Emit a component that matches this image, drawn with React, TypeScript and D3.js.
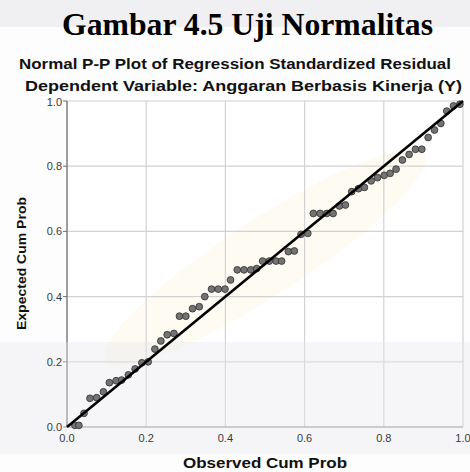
import React from "react";
import * as d3 from "d3";

const observedCumProb = [
  0.020, 0.030, 0.043, 0.058, 0.075, 0.092, 0.107, 0.124, 0.138, 0.155,
  0.172, 0.189, 0.205, 0.222, 0.237, 0.253, 0.270, 0.284, 0.300, 0.317,
  0.334, 0.348, 0.365, 0.382, 0.399, 0.413, 0.430, 0.447, 0.464, 0.479,
  0.494, 0.511, 0.528, 0.542, 0.559, 0.574, 0.591, 0.608, 0.622, 0.639,
  0.656, 0.672, 0.688, 0.703, 0.719, 0.736, 0.751, 0.768, 0.784, 0.801,
  0.816, 0.831, 0.847, 0.864, 0.880, 0.896, 0.912, 0.928, 0.944, 0.959,
  0.976, 0.992,
];
const expectedCumProb = [
  0.005, 0.005, 0.042, 0.088, 0.090, 0.108, 0.136, 0.142, 0.144, 0.160,
  0.178, 0.197, 0.200, 0.239, 0.264, 0.283, 0.287, 0.340, 0.340, 0.363,
  0.369, 0.400, 0.423, 0.423, 0.423, 0.451, 0.482, 0.482, 0.482, 0.486,
  0.509, 0.509, 0.509, 0.509, 0.538, 0.540, 0.591, 0.594, 0.655, 0.655,
  0.655, 0.655, 0.678, 0.681, 0.722, 0.731, 0.735, 0.755, 0.765, 0.772,
  0.778, 0.791, 0.819, 0.836, 0.852, 0.852, 0.888, 0.911, 0.931, 0.969,
  0.985, 0.990,
];
const tickValues = [0, 0.2, 0.4, 0.6, 0.8, 1.0];
const referenceLine = [0, 1];

const pageTitle = "Gambar 4.5 Uji Normalitas";
const chartTitle = "Normal P-P Plot of Regression Standardized Residual";
const chartSubtitle = "Dependent Variable: Anggaran Berbasis Kinerja (Y)";
const xAxisTitle = "Observed Cum Prob";
const yAxisTitle = "Expected Cum Prob";

export default function App() {
  const W = 470;
  const H = 472;
  const plot = { left: 67, right: 463, top: 101, bottom: 427 };
  const x = d3.scaleLinear().domain([0, 1]).range([plot.left, plot.right]);
  const y = d3.scaleLinear().domain([0, 1]).range([plot.bottom, plot.top]);
  const fmt = d3.format(".1f");
  const sans = "'Liberation Sans', Arial, sans-serif";

  const points = observedCumProb.map((v, i) => [v, expectedCumProb[i]]);
  const linePath = d3.line<number>()
    .x((d) => x(d))
    .y((d) => y(d))(referenceLine) as string;

  return (
    <svg
      width={W}
      height={H}
      style={{ position: "absolute", left: 0, top: 0, background: "#fff" }}
    >
      <rect x={0} y={0} width={W} height={H} fill="#fdfdfd" />
      <rect x={0} y={0} width={W} height={27} fill="#f0f0f2" />

      {/* plot background */}
      <rect
        x={plot.left}
        y={plot.top}
        width={plot.right - plot.left}
        height={plot.bottom - plot.top}
        fill="#ffffff"
      />
      <ellipse
        cx={x(0.5)}
        cy={y(0.52)}
        rx={190}
        ry={38}
        transform={`rotate(-33 ${x(0.5)} ${y(0.52)})`}
        fill="#fdf8ea"
        opacity={0.6}
      />

      {/* grid */}
      {tickValues.map((t) => (
        <g key={"g" + t}>
          <line x1={x(t)} x2={x(t)} y1={plot.top} y2={plot.bottom} stroke="#d2d2d2" strokeWidth={1.2} />
          <line x1={plot.left} x2={plot.right} y1={y(t)} y2={y(t)} stroke="#d2d2d2" strokeWidth={1.2} />
        </g>
      ))}

      {/* axes */}
      <line x1={plot.left} x2={plot.left} y1={plot.top} y2={plot.bottom} stroke="#6e6e6e" strokeWidth={1.2} />
      <line x1={plot.left} x2={plot.right} y1={plot.bottom} y2={plot.bottom} stroke="#8a8a8a" strokeWidth={1.2} />
      {tickValues.map((t) => (
        <line key={"yt" + t} x1={plot.left - 4} x2={plot.left} y1={y(t)} y2={y(t)} stroke="#6e6e6e" strokeWidth={1} />
      ))}

      {/* watermark band */}
      <rect x={0} y={342} width={W} height={112} fill="#e9e9ed" opacity={0.4} />

      {/* tick labels */}
      {tickValues.map((t) => (
        <text
          key={"yl" + t}
          x={plot.left - 5}
          y={t === 1 ? y(t) + 5 : y(t) + 4}
          textAnchor="end"
          fontFamily={sans}
          fontSize={11}
          fill="#3a3a3a"
        >
          {fmt(t)}
        </text>
      ))}
      {tickValues.map((t) => (
        <text
          key={"xl" + t}
          x={x(t)}
          y={plot.bottom + 15}
          textAnchor="middle"
          fontFamily={sans}
          fontSize={11}
          fill="#3a3a3a"
        >
          {fmt(t)}
        </text>
      ))}

      {/* points */}
      {points.map((p, i) => (
        <circle
          key={"p" + i}
          cx={x(p[0])}
          cy={y(p[1])}
          r={3.4}
          fill="#737373"
          stroke="#2e2e2e"
          strokeWidth={0.8}
        />
      ))}

      {/* reference line */}
      <path d={linePath} stroke="#000" strokeWidth={2.6} fill="none" />

      {/* titles */}
      <text
        x={62}
        y={35}
        fontFamily="'Liberation Serif', 'Times New Roman', serif"
        fontWeight="bold"
        fontSize={31}
        fill="#000"
        textLength={371}
        lengthAdjust="spacingAndGlyphs"
      >
        {pageTitle}
      </text>
      <text
        x={19}
        y={69}
        fontFamily={sans}
        fontWeight="bold"
        fontSize={14.5}
        fill="#111"
        textLength={432}
        lengthAdjust="spacingAndGlyphs"
      >
        {chartTitle}
      </text>
      <text
        x={25}
        y={91}
        fontFamily={sans}
        fontWeight="bold"
        fontSize={14}
        fill="#111"
        textLength={437}
        lengthAdjust="spacingAndGlyphs"
      >
        {chartSubtitle}
      </text>
      <text
        x={(183 + 347) / 2}
        y={468}
        textAnchor="middle"
        fontFamily={sans}
        fontWeight="bold"
        fontSize={14}
        fill="#111"
        textLength={164}
        lengthAdjust="spacingAndGlyphs"
      >
        {xAxisTitle}
      </text>
      <text
        transform={`translate(26, ${(197 + 330) / 2}) rotate(-90)`}
        textAnchor="middle"
        fontFamily={sans}
        fontWeight="bold"
        fontSize={13}
        fill="#111"
        textLength={133}
        lengthAdjust="spacingAndGlyphs"
      >
        {yAxisTitle}
      </text>
    </svg>
  );
}
